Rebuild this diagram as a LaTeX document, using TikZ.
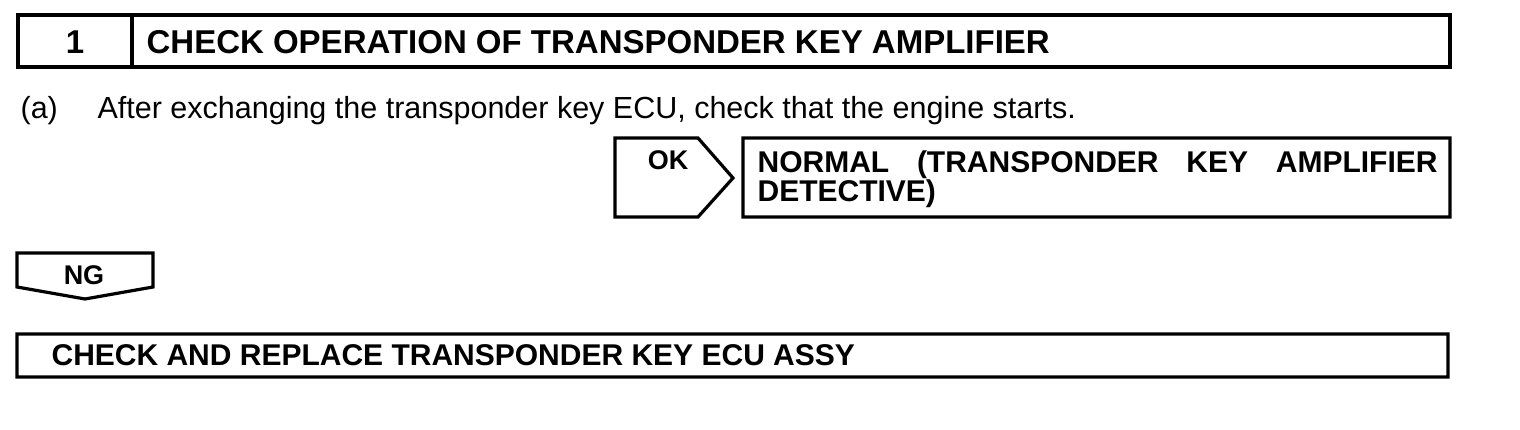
\documentclass[tikz,border=0pt]{standalone}
\usepackage{fontspec}
\setmainfont{Liberation Sans}
\usetikzlibrary{calc}

\begin{document}
\begin{tikzpicture}[x=1pt,y=-1pt,line width=3.2pt,line join=miter,
	txt/.style={inner sep=0pt,anchor=base west},
	hd/.style={font=\fontsize{33}{33}\selectfont\bfseries},
	bd/.style={font=\fontsize{30}{29}\selectfont\bfseries},
	tag/.style={inner sep=0pt,anchor=base,font=\fontsize{27}{27}\selectfont\bfseries},
	rg/.style={font=\fontsize{30.5}{30.5}\selectfont}]
	\useasboundingbox (0,0) rectangle (1520,430);
	\path
	(18,15) coordinate (T1)
	(1450,67) coordinate (T2)
	(132,15) coordinate (Tm)
	(615,138) coordinate (K1)
	(698,138) coordinate (K2)
	(733,178) coordinate (K3)
	(698,217) coordinate (K4)
	(615,217) coordinate (K5)
	(743,138) coordinate (R1)
	(1450,217) coordinate (R2)
	(17,253) coordinate (G1)
	(153,253) coordinate (G2)
	(153,287) coordinate (G3)
	(85,299) coordinate (G4)
	(17,287) coordinate (G5)
	(17,334) coordinate (B1)
	(1448,377) coordinate (B2);
	\draw (T1) rectangle (T2) (Tm)--(Tm|-T2);
	\draw (K1)--(K2)--(K3)--(K4)--(K5)--cycle (R1) rectangle (R2);
	\draw (G1)--(G2)--(G3)--(G4)--(G5)--cycle (B1) rectangle (B2);
	\node[tag,hd] (num) at (75,54) {1};
	\node[txt,hd] (ttl) at (145,54) {CHECK OPERATION OF TRANSPONDER KEY AMPLIFIER};
	\node[txt,rg] (itm) at (19,119) {(a)};
	\node[txt,rg] (stp) at (96,119) {After exchanging the transponder key ECU, check that the engine starts.};
	\node[tag] (ok) at (668,170) {OK};
	\node[txt,bd,text width=680pt,align=justify] (nrm) at (756,173) {NORMAL (TRANSPONDER KEY AMPLIFIER \mbox{DETECTIVE)}};
	\node[tag] (ng) at (84,285) {NG};
	\node[txt,bd] (rpl) at (50,365) {CHECK AND REPLACE TRANSPONDER KEY ECU ASSY};
\end{tikzpicture}
\end{document}
